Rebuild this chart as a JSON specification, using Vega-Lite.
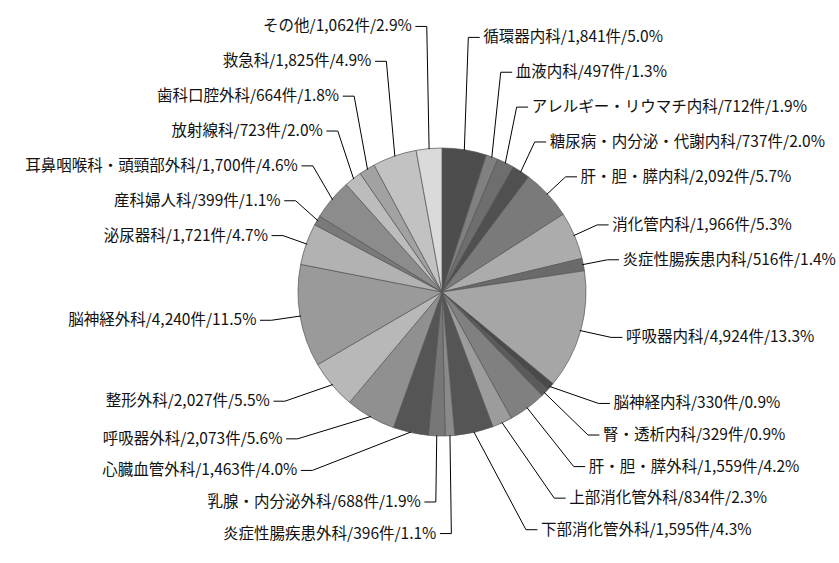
{
  "$schema": "https://vega.github.io/schema/vega-lite/v6.json",
  "width": 839,
  "height": 563,
  "autosize": {"type": "fit", "contains": "padding"},
  "padding": {"left": 39, "top": 19, "right": 0, "bottom": 0},
  "background": "white",
  "config": {"view": {"stroke": null}, "text": {"font": "Noto Sans CJK JP", "fontSize": 15.5, "color": "#111111"}},
  "data": {
    "values": [
      {"name": "循環器内科", "n": 1841},
      {"name": "血液内科", "n": 497},
      {"name": "アレルギー・リウマチ内科", "n": 712},
      {"name": "糖尿病・内分泌・代謝内科", "n": 737},
      {"name": "肝・胆・膵内科", "n": 2092},
      {"name": "消化管内科", "n": 1966},
      {"name": "炎症性腸疾患内科", "n": 516},
      {"name": "呼吸器内科", "n": 4924},
      {"name": "脳神経内科", "n": 330},
      {"name": "腎・透析内科", "n": 329},
      {"name": "肝・胆・膵外科", "n": 1559},
      {"name": "上部消化管外科", "n": 834},
      {"name": "下部消化管外科", "n": 1595},
      {"name": "炎症性腸疾患外科", "n": 396},
      {"name": "乳腺・内分泌外科", "n": 688},
      {"name": "心臓血管外科", "n": 1463},
      {"name": "呼吸器外科", "n": 2073},
      {"name": "整形外科", "n": 2027},
      {"name": "脳神経外科", "n": 4240},
      {"name": "泌尿器科", "n": 1721},
      {"name": "産科婦人科", "n": 399},
      {"name": "耳鼻咽喉科・頭頸部外科", "n": 1700},
      {"name": "放射線科", "n": 723},
      {"name": "歯科口腔外科", "n": 664},
      {"name": "救急科", "n": 1825},
      {"name": "その他", "n": 1062}
    ]
  },
  "transform": [
    {"joinaggregate": [{"op": "sum", "field": "n", "as": "total"}]},
    {"window": [{"op": "row_number", "as": "idx"}, {"op": "sum", "field": "n", "as": "cum"}], "frame": [null, 0]},
    {"calculate": "2*PI*(datum.cum - datum.n/2)/datum.total", "as": "mid"},
    {"calculate": "datum.mid*180/PI", "as": "deg"},
    {"calculate": "sin(datum.mid)", "as": "ex0"},
    {"calculate": "-cos(datum.mid)", "as": "ey0"},
    {"calculate": "1.18*sin(datum.mid)", "as": "lx0"},
    {"calculate": "-1.18*cos(datum.mid)", "as": "ly0"},
    {"calculate": "datum.deg < 90 ? 'RT' : datum.deg < 170 ? 'RB' : datum.deg < 270 ? 'LB' : 'LT'", "as": "g"},
    {"calculate": "(datum.g == 'RB' || datum.g == 'LB') ? 1 : -1", "as": "dir"},
    {"calculate": "datum.dir == 1 ? 0.22 : 0.243", "as": "s"},
    {"calculate": "(datum.g == 'RB' || datum.g == 'LT') ? datum.deg : -datum.deg", "as": "ok"},
    {"calculate": "datum.deg < 170 ? 1 : -1", "as": "side"},
    {"window": [{"op": "row_number", "as": "k"}], "groupby": ["g"], "sort": [{"field": "ok", "order": "ascending"}]},
    {"calculate": "datum.dir*datum.ly0 - datum.s*datum.k", "as": "v"},
    {"window": [{"op": "max", "field": "v", "as": "V"}], "groupby": ["g"], "sort": [{"field": "ok", "order": "ascending"}], "frame": [null, 0]},
    {"calculate": "datum.dir*(datum.V + datum.s*datum.k)", "as": "ly"},
    {"calculate": "(datum.dir == 1 && abs(datum.lx0) >= 0.2) ? datum.side*max(abs(datum.lx0), 1.2*sqrt(max(0, 1 - pow(datum.ly/1.9, 2)))) : datum.lx0", "as": "bx"},
    {"calculate": "datum.bx + datum.side*0.08", "as": "hx"},
    {"calculate": "datum.bx + datum.side*0.105", "as": "tx"},
    {"calculate": "datum.name + '/' + format(datum.n, ',') + '件/' + format(datum.n/datum.total, '.1%')", "as": "label"}
  ],
  "layer": [
    {
      "mark": {"type": "arc", "outerRadius": 144, "stroke": "#555555", "strokeWidth": 0.7},
      "encoding": {
        "theta": {"field": "n", "type": "quantitative", "stack": true},
        "order": {"field": "idx", "type": "quantitative"},
        "color": {
          "field": "name", "type": "nominal", "legend": null,
          "scale": {
            "domain": ["循環器内科", "血液内科", "アレルギー・リウマチ内科", "糖尿病・内分泌・代謝内科", "肝・胆・膵内科", "消化管内科", "炎症性腸疾患内科", "呼吸器内科", "脳神経内科", "腎・透析内科", "肝・胆・膵外科", "上部消化管外科", "下部消化管外科", "炎症性腸疾患外科", "乳腺・内分泌外科", "心臓血管外科", "呼吸器外科", "整形外科", "脳神経外科", "泌尿器科", "産科婦人科", "耳鼻咽喉科・頭頸部外科", "放射線科", "歯科口腔外科", "救急科", "その他"],
            "range": ["#4d4d4d", "#808080", "#6e6e6e", "#505050", "#7a7a7a", "#acacac", "#6a6a6a", "#a6a6a6", "#4a4a4a", "#5a5a5a", "#808080", "#9c9c9c", "#555555", "#8a8a8a", "#777777", "#555555", "#909090", "#b8b8b8", "#9a9a9a", "#b2b2b2", "#7a7a7a", "#8c8c8c", "#bcbcbc", "#a2a2a2", "#c2c2c2", "#dadada"]
          }
        }
      }
    },
    {
      "mark": {"type": "rule", "color": "#000000", "strokeWidth": 1},
      "encoding": {
        "x": {"field": "ex0", "type": "quantitative", "axis": null, "scale": {"domain": [-2.7778, 2.7778], "nice": false, "zero": false}},
        "y": {"field": "ey0", "type": "quantitative", "axis": null, "scale": {"domain": [-1.8889, 1.8889], "nice": false, "zero": false, "reverse": true}},
        "x2": {"field": "bx"},
        "y2": {"field": "ly"}
      }
    },
    {
      "mark": {"type": "rule", "color": "#000000", "strokeWidth": 1},
      "encoding": {
        "x": {"field": "bx", "type": "quantitative"},
        "y": {"field": "ly", "type": "quantitative"},
        "x2": {"field": "hx"},
        "y2": {"field": "ly"}
      }
    },
    {
      "transform": [{"filter": "datum.side == 1"}],
      "mark": {"type": "text", "align": "left", "baseline": "middle"},
      "encoding": {
        "x": {"field": "tx", "type": "quantitative"},
        "y": {"field": "ly", "type": "quantitative"},
        "text": {"field": "label"}
      }
    },
    {
      "transform": [{"filter": "datum.side == -1"}],
      "mark": {"type": "text", "align": "right", "baseline": "middle"},
      "encoding": {
        "x": {"field": "tx", "type": "quantitative"},
        "y": {"field": "ly", "type": "quantitative"},
        "text": {"field": "label"}
      }
    }
  ]
}
